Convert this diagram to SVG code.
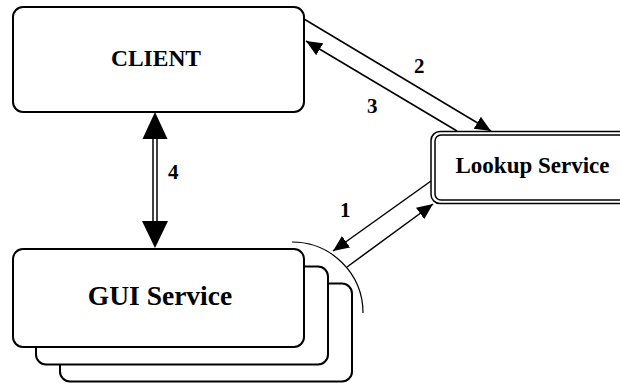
<svg xmlns="http://www.w3.org/2000/svg" width="620" height="383" viewBox="0 0 620 383">
<style>
.box{fill:#fff;stroke:#000;stroke-width:2}
.thin{fill:none;stroke:#000;stroke-width:1.5}
.ln{stroke:#000;stroke-width:1.5;fill:none}
.t{font-family:"Liberation Serif","Times New Roman",serif;font-weight:bold;fill:#000}
.lbl{font-family:"Liberation Serif","Times New Roman",serif;font-weight:bold;font-size:21px;fill:#000}
</style>
<defs>
<marker id="ah" viewBox="0 0 16 14" refX="16" refY="7" markerWidth="16" markerHeight="14" markerUnits="userSpaceOnUse" orient="auto">
<path d="M0,0 L16,7 L0,14 z" fill="#000"/>
</marker>
</defs>
<rect width="620" height="383" fill="#fff"/>
<g id="client">
<rect class="box" x="13" y="7" width="291" height="105" rx="10"/>
<text class="t" x="156" y="66" font-size="23.5" text-anchor="middle">CLIENT</text>
</g>
<g id="lookup">
<rect class="thin" x="431" y="131.5" width="200" height="72" rx="9" fill="#fff"/>
<rect class="thin" x="435" y="135" width="200" height="65" rx="6"/>
<text class="t" x="532.5" y="173" font-size="23" text-anchor="middle">Lookup Service</text>
</g>
<g id="gui">
<rect class="box" x="60" y="283.5" width="292" height="98" rx="10"/>
<rect class="box" x="36" y="266.5" width="292" height="98" rx="10"/>
<rect class="box" x="13" y="249" width="291" height="98" rx="10"/>
<text class="t" x="160" y="305" font-size="27.5" text-anchor="middle">GUI Service</text>
</g>
<g id="connectors">
<line class="ln" x1="304" y1="19" x2="491" y2="131" marker-end="url(#ah)"/>
<line class="ln" x1="457" y1="131" x2="306" y2="41" marker-end="url(#ah)"/>
<line class="ln" x1="431" y1="181" x2="333" y2="251" marker-end="url(#ah)"/>
<line class="ln" x1="347" y1="267" x2="433" y2="204" marker-end="url(#ah)"/>
<path d="M292,242 A71,71 0 0 1 363,313" fill="none" stroke="#000" stroke-width="1.2"/>
<line class="ln" x1="153" y1="136" x2="153" y2="224"/>
<line class="ln" x1="157" y1="136" x2="157" y2="224"/>
<polygon points="155,112 142.5,139 167.5,139" fill="#000"/>
<polygon points="155,248 142,221 168,221" fill="#000"/>
<text class="lbl" x="414" y="73">2</text>
<text class="lbl" x="367" y="113">3</text>
<text class="lbl" x="168" y="179">4</text>
<text class="lbl" x="340" y="217">1</text>
</g>
</svg>
